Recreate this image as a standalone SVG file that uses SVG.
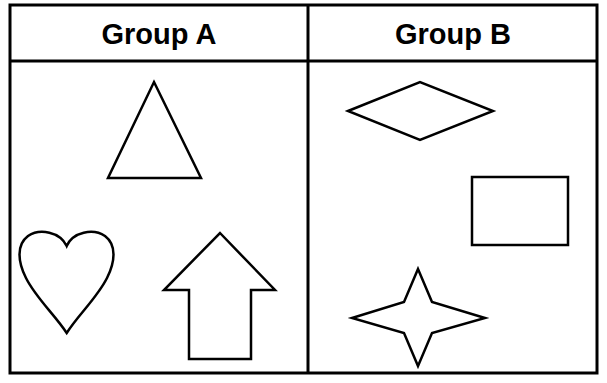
<svg xmlns="http://www.w3.org/2000/svg" width="607" height="383" viewBox="0 0 607 383">
<style>
.frame{fill:none;stroke:#000;stroke-width:3}
.shape{fill:#fff;stroke:#000;stroke-width:2.5;stroke-linejoin:miter}
.hdr{font-family:"Liberation Sans",Arial,sans-serif;font-weight:bold;font-size:29px;fill:#000;text-anchor:middle}
</style>
<rect width="607" height="383" fill="#fff"/>
<g id="table">
<rect class="frame" x="10" y="5" width="587" height="368"/>
<line class="frame" x1="10" y1="61" x2="597" y2="61"/>
<line class="frame" x1="308" y1="5" x2="308" y2="373"/>
<text class="hdr" x="159" y="44">Group A</text>
<text class="hdr" x="453" y="44">Group B</text>
</g>
<g id="triangle"><polygon class="shape" points="154,82 201,178 108,178"/></g>
<g id="heart"><path class="shape" d="M66.7,246 C60,232 40,228 28,236 C16,245 18,262 26,278 C36,298 55,315 66.7,333 C78,315 97,298 107,278 C115,262 117,245 105,236 C93,228 73,232 66.7,246 Z"/></g>
<g id="arrow"><polygon class="shape" points="220,233 275,290 251,290 251,359 189,359 189,290 164,290"/></g>
<g id="diamond"><polygon class="shape" points="348,111 420,82 493,111 420,140"/></g>
<g id="rectangle"><rect class="shape" x="472" y="177" width="96" height="68"/></g>
<g id="star"><polygon class="shape" points="418,269 432,302 485,318 432,333 418,366 404,333 352,318 404,302"/></g>
<g id="connectors"></g>
</svg>
